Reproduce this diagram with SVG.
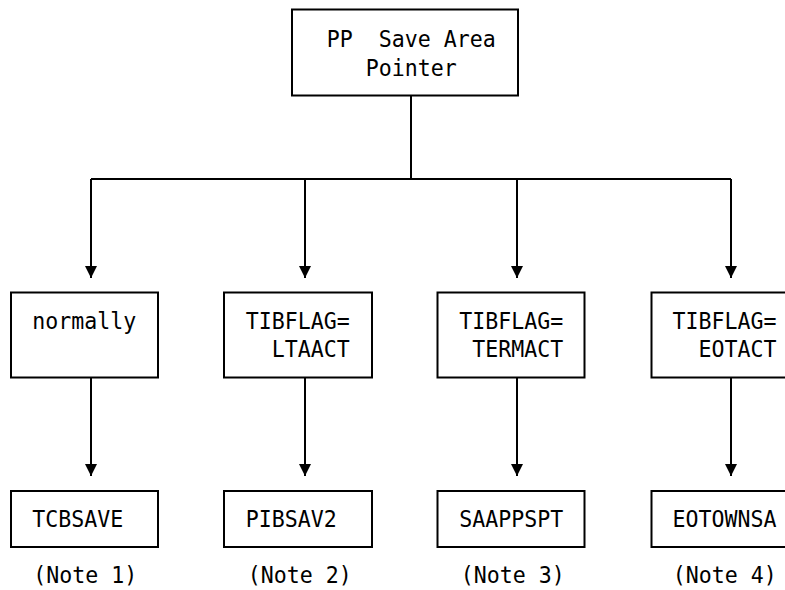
<svg xmlns="http://www.w3.org/2000/svg" width="785" height="590" viewBox="0 0 785 590">
<style>
.box{fill:#fff;stroke:#000;stroke-width:2}
.t{font-family:"DejaVu Sans Mono","Liberation Mono",monospace;font-size:21.6px;fill:#000;white-space:pre}
.c{fill:none;stroke:#000;stroke-width:2}
</style>
<defs>
<marker id="ah" markerUnits="userSpaceOnUse" markerWidth="12" markerHeight="12" refX="12" refY="6" orient="auto">
<path d="M0,0 L12,6 L0,12 z" fill="#000"/>
</marker>
</defs>
<rect width="785" height="590" fill="#fff"/>
<g id="connectors">
<path class="c" d="M411,96 V179"/>
<path class="c" d="M91,179 H731"/>
<path class="c" d="M91,179 V278" marker-end="url(#ah)"/>
<path class="c" d="M305,179 V278" marker-end="url(#ah)"/>
<path class="c" d="M517,179 V278" marker-end="url(#ah)"/>
<path class="c" d="M731,179 V278" marker-end="url(#ah)"/>
<path class="c" d="M91,377 V476" marker-end="url(#ah)"/>
<path class="c" d="M305,377 V476" marker-end="url(#ah)"/>
<path class="c" d="M517,377 V476" marker-end="url(#ah)"/>
<path class="c" d="M731,377 V476" marker-end="url(#ah)"/>
</g>
<g id="root">
<rect class="box" x="292" y="9.5" width="226" height="86"/>
<text class="t" transform="matrix(1 0 0 1.07 326.7 47)">PP  Save Area</text>
<text class="t" transform="matrix(1 0 0 1.07 365.7 75.5)">Pointer</text>
</g>
<g id="cond1">
<rect class="box" x="11" y="292.5" width="147" height="85"/>
<text class="t" transform="matrix(1 0 0 1.07 32.3 328.5)">normally</text>
</g>
<g id="cond2">
<rect class="box" x="224" y="292.5" width="148" height="85"/>
<text class="t" transform="matrix(1 0 0 1.07 245.7 328.5)">TIBFLAG=</text>
<text class="t" transform="matrix(1 0 0 1.07 271.7 357)">LTAACT</text>
</g>
<g id="cond3">
<rect class="box" x="437.5" y="292.5" width="147" height="85"/>
<text class="t" transform="matrix(1 0 0 1.07 459.3 328.5)">TIBFLAG=</text>
<text class="t" transform="matrix(1 0 0 1.07 472.3 357)">TERMACT</text>
</g>
<g id="cond4">
<rect class="box" x="651.5" y="292.5" width="147" height="85"/>
<text class="t" transform="matrix(1 0 0 1.07 672.5 328.5)">TIBFLAG=</text>
<text class="t" transform="matrix(1 0 0 1.07 698.5 357)">EOTACT</text>
</g>
<g id="save1">
<rect class="box" x="11" y="491" width="147" height="56"/>
<text class="t" transform="matrix(1 0 0 1.07 32.3 527)">TCBSAVE</text>
</g>
<g id="save2">
<rect class="box" x="224" y="491" width="148" height="56"/>
<text class="t" transform="matrix(1 0 0 1.07 245.7 527)">PIBSAV2</text>
</g>
<g id="save3">
<rect class="box" x="437.5" y="491" width="147" height="56"/>
<text class="t" transform="matrix(1 0 0 1.07 459.3 527)">SAAPPSPT</text>
</g>
<g id="save4">
<rect class="box" x="651.5" y="491" width="147" height="56"/>
<text class="t" transform="matrix(1 0 0 1.07 672.5 527)">EOTOWNSA</text>
</g>
<g id="notes">
<text class="t" transform="matrix(1 0 0 1.07 33.3 583)">(Note 1)</text>
<text class="t" transform="matrix(1 0 0 1.07 247.7 583)">(Note 2)</text>
<text class="t" transform="matrix(1 0 0 1.07 460.7 583)">(Note 3)</text>
<text class="t" transform="matrix(1 0 0 1.07 672.7 583)">(Note 4)</text>
</g>
</svg>
